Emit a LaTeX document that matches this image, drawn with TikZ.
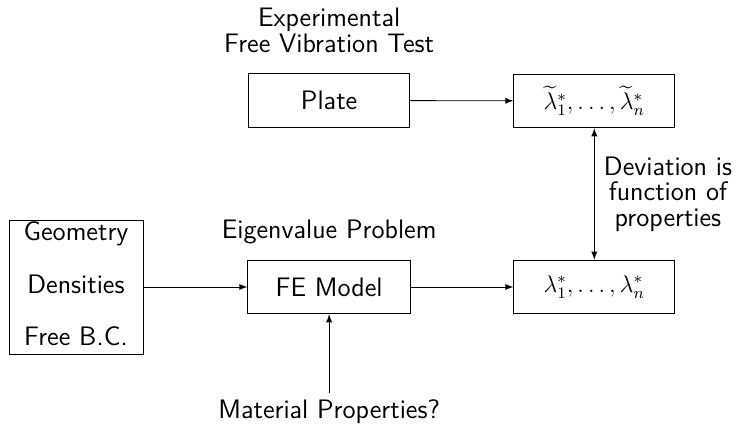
\documentclass[tikz,border=0pt]{standalone}
\usepackage{amsmath,amssymb}
\usepackage{tikz}
\usetikzlibrary{arrows,positioning}
\tikzset{
	block/.style={
			draw, minimum width=2.82cm, minimum height=0.94cm, align=center
		},
	caption/.style={
			align=center
		},
	mathbox/.style={
			block, font=\fontsize{12}{12}\selectfont
		}
}

\begin{document}
\begin{tikzpicture}[font=\sffamily\fontsize{13.3}{12.8}\selectfont, >=latex]
		\useasboundingbox (0,0) rectangle (12.985,7.5075);

		\node[block] (plate) at (5.76, 5.75) {Plate};
		\node[mathbox] (meas) at (10.40, 5.74) {$\widetilde{\lambda}_1^*,\ldots,\widetilde{\lambda}_n^*$};
		\node[block, minimum width=2.85cm] (fem) at (5.76, 2.485) {FE Model};
		\node[mathbox] (calc) at (10.40, 2.485) {$\lambda_1^*,\ldots,\lambda_n^*$};
		\node[block, minimum width=2.345cm, minimum height=2.345cm] (input) at (1.33, 2.485) {};
		\node[caption] (inputtext) at (1.33, 2.54) {Geometry\\[13.5pt]Densities\\[13.5pt]Free B.C.};

		\node[caption] (exp) at (5.76, 6.98) {Experimental\\Free Vibration Test};
		\node[caption] (eig) at (5.76, 3.45) {Eigenvalue Problem};
		\node[caption] (mat) at (5.76, 0.3) {Material Properties?};
		\node[caption] (dev) at (11.69, 4.11) {Deviation is\\function of\\properties};

		\draw[->]	(plate) to (meas);
		\draw[->]	(input) to (fem);
		\draw[->]	(fem) to (calc);
		\draw[->]	(mat) to (fem);
		\draw[<->]	(meas) to (calc);
	\end{tikzpicture}
\end{document}
